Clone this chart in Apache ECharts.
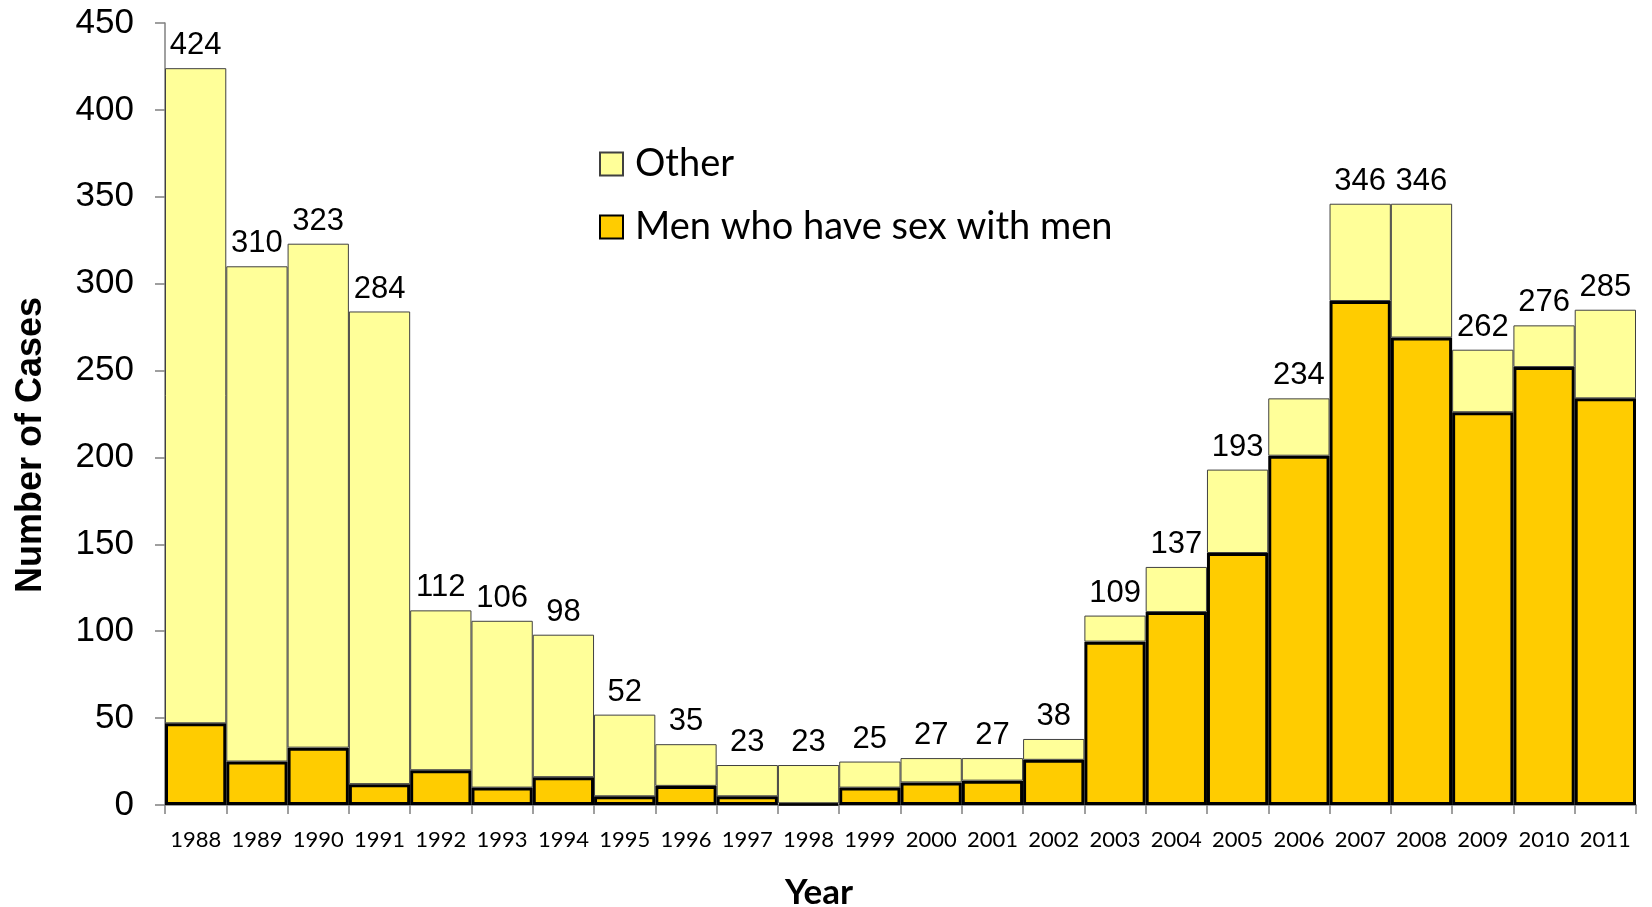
<!DOCTYPE html>
<html>
<head>
<meta charset="utf-8">
<script src="https://cdn.jsdelivr.net/npm/echarts@6/dist/echarts.min.js"></script>
<style>html,body{margin:0;padding:0;background:#fff}#c{width:1652px;height:907px}</style>
</head>
<body>
<div id="c"></div>
<script>
const years = ['1988','1989','1990','1991','1992','1993','1994','1995','1996','1997','1998','1999','2000','2001','2002','2003','2004','2005','2006','2007','2008','2009','2010','2011'];
const totals = [424,310,323,284,112,106,98,52,35,23,23,25,27,27,38,109,137,193,234,346,346,262,276,285];
const msm = [47,25,33,12,20,10,16,5,11,5,1,10,13,14,26,94,111,145,201,290,269,226,252,234];
const other = [377,285,290,272,92,96,82,47,24,18,22,15,14,13,12,15,26,48,33,56,77,36,24,51];
const yTicks = [0,50,100,150,200,250,300,350,400,450];

const chart = echarts.init(document.getElementById('c'), null, {renderer:'canvas'});
chart.setOption({
  animation:false,
  backgroundColor:'#fff',
  grid:{left:165, top:23, right:16, bottom:102, containLabel:false},
  legend:{
    data:['Other','Men who have sex with men'],
    orient:'vertical', left:594, top:139, itemGap:23, padding:5,
    itemWidth:23, itemHeight:23, icon:'rect',
    textStyle:{fontFamily:'Lato', fontSize:38, lineHeight:40, color:'#000', padding:[0,0,0,7]}
  },
  xAxis:{
    type:'category', data:years,
    axisLine:{lineStyle:{color:'#808080', width:1.5}},
    axisTick:{show:true, alignWithLabel:false, length:9, lineStyle:{color:'#808080', width:1.5}},
    axisLabel:{fontFamily:'Lato', fontSize:22, color:'#000', margin:24, interval:0}
  },
  yAxis:{
    type:'value', min:0, max:450, interval:50,
    splitLine:{show:false},
    axisLine:{show:true, lineStyle:{color:'#808080', width:1.5}},
    axisTick:{show:true, length:10, lineStyle:{color:'#808080', width:1.5}},
    axisLabel:{fontFamily:'Liberation Sans', fontSize:35, color:'#000', margin:31,
      formatter: v => yTicks.includes(v) ? String(v) : ''}
  },
  graphic:[
    {type:'text', x:31, y:445, rotation:Math.PI/2,
     style:{text:'Number of Cases', font:'bold 36px "Liberation Sans"', fill:'#000', textAlign:'center', textVerticalAlign:'middle'}},
    {type:'text', x:819, y:893,
     style:{text:'Year', font:'bold 35px "Lato"', fill:'#000', textAlign:'center', textVerticalAlign:'middle'}}
  ],
  series:[
    {name:'Men who have sex with men', type:'bar', stack:'a', data:msm,
     barCategoryGap:'0%',
     itemStyle:{color:'#FFCC00', borderColor:'#000', borderWidth:3}},
    {name:'Other', type:'bar', stack:'a', data:other,
     barCategoryGap:'0%',
     itemStyle:{color:'#FFFF99', borderColor:'#404040', borderWidth:1},
     label:{show:true, position:'top', distance:7, fontFamily:'Liberation Sans', fontSize:31, color:'#000',
       formatter: p => String(totals[p.dataIndex])}}
  ]
});
</script>
</body>
</html>
